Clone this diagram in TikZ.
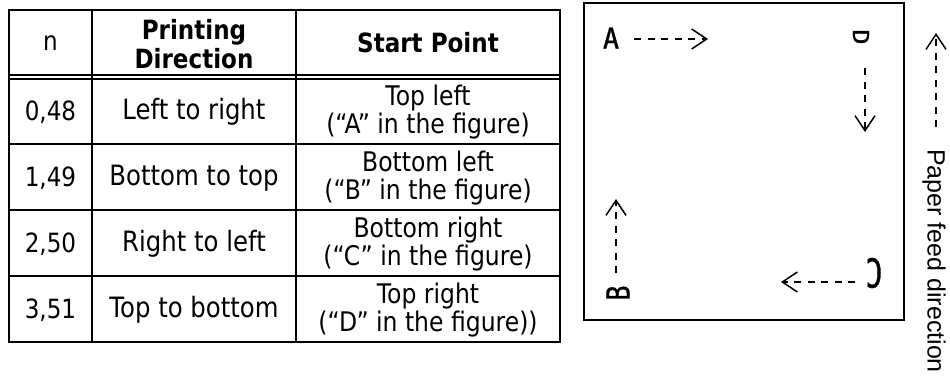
\documentclass[tikz,border=0pt]{standalone}
\usepackage{fontspec}
\setmainfont{DejaVu Sans}[FakeStretch=0.87]
\newfontfamily\monofnt{DejaVu Sans Mono}[FakeBold=1.2]
\newfontfamily\feedfnt{Liberation Sans}
\usetikzlibrary{arrows.meta}
\newcommand\ltr[3]{\scalebox{#1}[#2]{#3}}
\begin{document}
\begin{tikzpicture}[x=1pt,y=-1pt,
  tline/.style={line width=2pt},
  dline/.style={line width=1.4pt},
  hd/.style={font=\fontsize{26.5}{29}\selectfont\bfseries, align=center, inner sep=0pt},
  num/.style={font=\fontsize{26.5}{28}\selectfont, align=center, inner sep=0pt},
  body/.style={font=\fontsize{28}{28}\selectfont, align=center, inner sep=0pt},
  sp/.style={font=\fontsize{27}{28}\selectfont, align=center, inner sep=0pt},
  lett/.style={font=\monofnt\fontsize{20}{20}\selectfont, inner sep=0pt},
  arr/.style={line width=1.5pt, dash pattern=on 7pt off 6.5pt,
    -{Straight Barb[length=15pt,width=20pt,line width=1.5pt]}}
]
\useasboundingbox (0,0) rectangle (950,381);
\fill[white] (0,0) rectangle (950,381);
% table frame
\draw[tline] (9,10) rectangle (560,342);
\draw[tline] (92,10) -- (92,342) (296,10) -- (296,342);
\draw[dline] (9,75) -- (560,75) (9,79) -- (560,79);
\draw[tline] (9,144) -- (560,144) (9,210) -- (560,210) (9,276) -- (560,276);
% header
\node[num] (h1) at (50.5,43) {n};
\node[hd] (h2) at (194,44) {Printing\\Direction};
\node[hd] (h3) at (428,43) {Start Point};
% rows
\node[num] (n1) at (50.5,112) {0,48};
\node[body] (d1) at (194,112) {Left to right};
\node[sp] (s1) at (428,112) {Top left\\(“A” in the figure)};
\node[num] (n2) at (50.5,178) {1,49};
\node[body] (d2) at (194,178) {Bottom to top};
\node[sp] (s2) at (428,178) {Bottom left\\(“B” in the figure)};
\node[num] (n3) at (50.5,244) {2,50};
\node[body] (d3) at (194,244) {Right to left};
\node[sp] (s3) at (428,244) {Bottom right\\(“C” in the figure)};
\node[num] (n4) at (50.5,310) {3,51};
\node[body] (d4) at (194,310) {Top to bottom};
\node[sp] (s4) at (428,310) {Top right\\(“D” in the figure))};
% paper box
\draw[tline] (584,3) rectangle (904,320);
\node[lett] (A) at (611,38) {\ltr{1.33}{1.44}{A}};
\node[lett, rotate=-90] (D) at (861,37) {\ltr{1.27}{1.1}{D}};
\node[lett, rotate=90] (B) at (618,293) {\ltr{1.24}{1.58}{B}};
\node[lett, rotate=180] (C) at (874,273) {\ltr{1.4}{2.0}{C}};
\coordinate (Aend) at (708,39);
\coordinate (Dend) at (865,132);
\coordinate (Bend) at (616,199);
\coordinate (Cend) at (781,282);
\draw[arr, shorten <=23pt] (A |- Aend) -- (Aend);
\draw[arr, shorten <=31pt] (D -| Dend) -- (Dend);
\draw[arr, shorten <=20pt] (B -| Bend) -- (Bend);
\draw[arr, shorten <=19pt] (C |- Cend) -- (Cend);
% paper feed
\node[font=\feedfnt\fontsize{25}{25}\selectfont, rotate=-90, inner sep=0pt] (feed) at (934,261) {Paper feed direction};
\coordinate (Fend) at (936,33);
\draw[arr, shorten <=134pt] (feed -| Fend) -- (Fend);
\end{tikzpicture}
\end{document}
